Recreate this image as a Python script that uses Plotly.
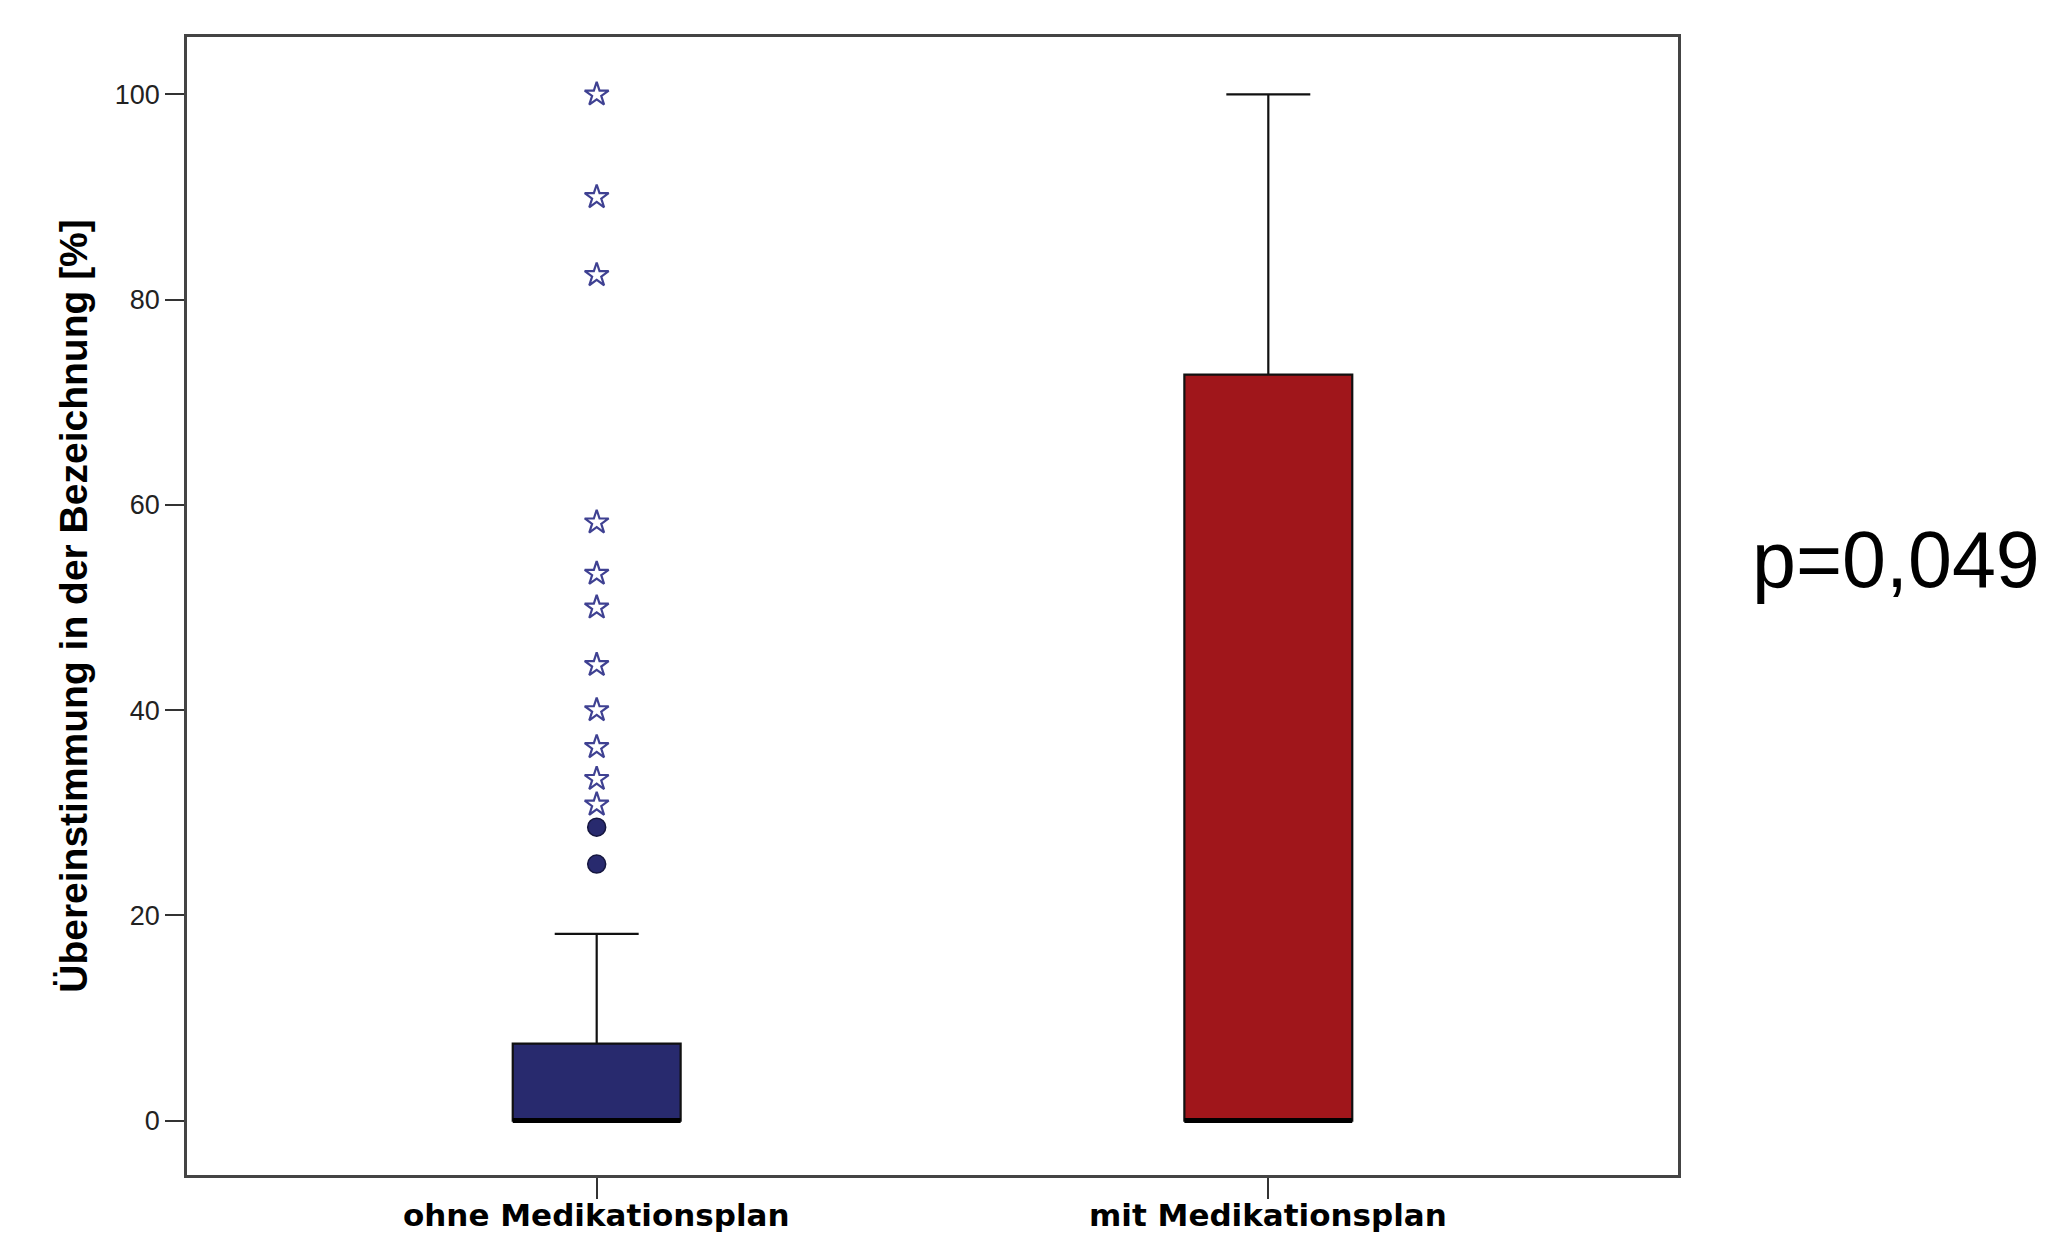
import plotly.graph_objects as go

categories = ["ohne Medikationsplan", "mit Medikationsplan"]
q1 = [0.0, 0.0]
median = [0.0, 0.0]
q3 = [7.5, 72.7]
lowerfence = [0.0, 0.0]
upperfence = [18.2, 100.0]
box_colors = ["#282A6E", "#A0161B"]

# outliers of group "ohne Medikationsplan"
outliers_circle = [28.6, 25.0]
outliers_extreme = [100.0, 90.0, 82.4, 58.3, 53.3, 50.0, 44.4, 40.0, 36.4, 33.3, 30.8]

y_ticks = [0, 20, 40, 60, 80, 100]
p_text = "p=0,049"
y_title = "Übereinstimmung in der Bezeichnung [%]"

BOX_W = 0.25
xpos = list(range(len(categories)))

fig = go.Figure()
for i in xpos:
    fig.add_trace(go.Box(
        x=[i], q1=[q1[i]], median=[median[i]], q3=[q3[i]],
        lowerfence=[lowerfence[i]], upperfence=[upperfence[i]],
        boxpoints=False, width=BOX_W, whiskerwidth=0.5,
        fillcolor=box_colors[i], line=dict(color="#111111", width=2.2),
        showlegend=False, hoverinfo="skip",
    ))
    # thick median line (SPSS style)
    fig.add_trace(go.Scatter(
        x=[i - BOX_W / 2, i + BOX_W / 2], y=[median[i], median[i]],
        mode="lines", line=dict(color="black", width=5),
        showlegend=False, hoverinfo="skip",
    ))
    # category label below the axis
    fig.add_annotation(
        text=categories[i], x=i, xref="x", y=-0.0175, yref="paper",
        xanchor="center", yanchor="top", showarrow=False,
        font=dict(family="DejaVu Sans", size=31, color="black", weight="bold"),
    )

fig.add_trace(go.Scatter(
    x=[xpos[0]] * len(outliers_circle), y=outliers_circle, mode="markers",
    marker=dict(symbol="circle", size=18, color="#282A6E",
                line=dict(color="#15163F", width=1.5)),
    showlegend=False,
))
fig.add_trace(go.Scatter(
    x=[xpos[0]] * len(outliers_extreme), y=outliers_extreme, mode="markers",
    marker=dict(symbol="star-open", size=18, color="#3F4192",
                line=dict(color="#3F4192", width=2.2)),
    showlegend=False,
))

fig.add_annotation(
    text=p_text, xref="paper", yref="paper", x=1.0483, y=0.541,
    xanchor="left", yanchor="middle", showarrow=False,
    font=dict(family="Liberation Sans, Arial", size=79, color="black"),
)

fig.update_layout(
    width=2035, height=1227,
    margin=dict(l=179, r=365, t=29, b=60),
    paper_bgcolor="white", plot_bgcolor="white",
    xaxis=dict(
        range=[-0.61, 1.61], tickvals=xpos, showticklabels=False,
        showline=True, linecolor="#444444", linewidth=2.5, mirror=True,
        ticks="outside", ticklen=21, tickwidth=2, tickcolor="#333333",
        showgrid=False, zeroline=False, automargin=False,
    ),
    yaxis=dict(
        range=[-5.3, 105.6], tickvals=y_ticks,
        showline=True, linecolor="#444444", linewidth=2.5, mirror=True,
        ticks="outside", ticklen=19, tickwidth=2, tickcolor="#333333",
        showgrid=False, zeroline=False, automargin=False,
        tickfont=dict(family="Liberation Sans, Arial", size=27, color="#222222"),
        title=dict(text=y_title, standoff=16,
                   font=dict(family="Liberation Sans, Arial",
                             size=39, color="black", weight="bold")),
    ),
)

fig.write_html("out.html")
